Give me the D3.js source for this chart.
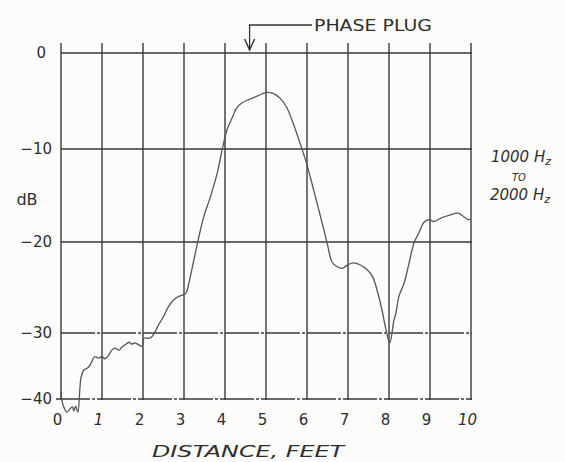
<!DOCTYPE html>
<html>
<head>
<meta charset="utf-8">
<script src="https://d3js.org/d3.v7.min.js"></script>
<style>
  body { margin: 0; background: #fcfcfb; }
  svg { display: block; }
  .grid line { stroke: #3a3a3a; stroke-width: 1.4; }
  .lbl { font-family: "DejaVu Sans", sans-serif; fill: #2e2e2e; }
</style>
</head>
<body>
<div id="chart"></div>
<script>
// distance (feet) and level (dB)
var distance = [0, 0.05, 0.15, 0.23, 0.28, 0.31, 0.36, 0.41, 0.49, 0.56, 0.67, 0.74, 0.82, 0.92, 1.0,
    1.07, 1.17, 1.24, 1.32, 1.41, 1.49, 1.56, 1.66, 1.73, 1.80, 1.98, 2.02, 2.14, 2.21, 2.29,
    2.38, 2.5, 2.62, 2.74, 2.86, 2.98, 3.05, 3.12, 3.24, 3.36, 3.48, 3.64, 3.81, 3.93, 4.05,
    4.17, 4.29, 4.41, 4.61, 4.78, 4.93, 5.05, 5.17, 5.34, 5.51, 5.66, 5.83, 6.0, 6.15, 6.32,
    6.49, 6.61, 6.73, 6.85, 7.0, 7.12, 7.29, 7.48, 7.6, 7.71, 7.83, 7.93, 8.02, 8.12, 8.17,
    8.24, 8.37, 8.49, 8.61, 8.73, 8.85, 8.98, 9.1, 9.28, 9.48, 9.68, 9.8, 9.93, 10.0];
var level = [-39.0, -40.9, -42.0, -41.4, -41.2, -41.8, -41.1, -42.0, -36.7, -35.6, -35.2, -34.5, -33.6, -33.8, -33.6,
    -33.9, -33.3, -32.6, -32.3, -32.6, -32.1, -31.8, -31.4, -31.7, -31.5, -32.0, -30.8, -30.8, -30.6, -29.9,
    -29.1, -28.2, -27.1, -26.4, -26.0, -25.8, -25.6, -24.5, -22.0, -19.5, -17.3, -15.2, -12.6, -10.1, -8.0,
    -6.8, -5.7, -5.2, -4.8, -4.5, -4.2, -4.1, -4.2, -4.7, -5.7, -7.3, -9.4, -11.7, -14.2, -17.1,
    -20.1, -22.2, -22.7, -22.9, -22.5, -22.3, -22.5, -23.1, -23.8, -25.3, -27.5, -29.7, -31.5, -28.6, -27.8,
    -26.0, -24.5, -22.3, -20.1, -19.0, -17.9, -17.6, -17.8, -17.4, -17.1, -16.9, -17.2, -17.6, -17.5];

var xTicks = [0, 1, 2, 3, 4, 5, 6, 7, 8, 9, 10];
var yTicks = [0, -10, -20, -30, -40];
var yTickLabels = ["0", "\u221210", "\u221220", "\u221230", "\u221240"];

var width = 565, height = 462;

var svg = d3.select("#chart").append("svg")
    .attr("width", width)
    .attr("height", height);

var x = d3.scaleLinear().domain([0, 10]).range([61, 471]);
// the drawn grid is uneven, the last row is shorter
var y = d3.scaleLinear().domain([-40, -30, -20, -10, 0]).range([399, 333, 242, 149, 53]);

var grid = svg.append("g").attr("class", "grid");

grid.selectAll(".vline")
    .data(xTicks)
    .enter().append("line")
    .attr("class", "vline")
    .attr("x1", function(d) { return x(d); })
    .attr("x2", function(d) { return x(d); })
    .attr("y1", y(0) - 10)
    .attr("y2", y(-40) + 1);

grid.selectAll(".hline")
    .data(yTicks)
    .enter().append("line")
    .attr("class", "hline")
    .attr("x1", function(d) { return d == -40 ? x(0) - 5 : x(0); })
    .attr("x2", x(10) + 1)
    .attr("y1", function(d) { return y(d); })
    .attr("y2", function(d) { return y(d); })
    .style("stroke-dasharray", function(d) { return (d == -30 || d == -40) ? "34,2,3,2" : null; });

// x tick labels
svg.append("g")
    .attr("transform", "translate(0," + (y(-40) + 5) + ")")
    .call(d3.axisBottom(x).tickValues(xTicks).tickSize(0).tickPadding(10).tickFormat(d3.format("d")))
    .call(function(g) {
        g.select(".domain").remove();
        g.selectAll("text")
            .attr("class", "lbl")
            .attr("dx", -4)
            .style("font-size", "15px")
            .style("font-style", function(d) { return (d == 1 || d == 10) ? "italic" : null; });
    });

// y tick labels
svg.append("g")
    .attr("transform", "translate(" + (x(0) - 6) + ",0)")
    .call(d3.axisLeft(y).tickValues(yTicks).tickSize(0).tickPadding(3)
        .tickFormat(function(d, i) { return yTickLabels[i]; }))
    .call(function(g) {
        g.select(".domain").remove();
        g.selectAll("text")
            .attr("class", "lbl")
            .style("font-size", "15px")
            .attr("dx", function(d) { return d == 0 ? -6 : 0; });
    });

svg.append("text")
    .attr("class", "lbl")
    .attr("x", 27)
    .attr("y", 205)
    .attr("text-anchor", "middle")
    .style("font-size", "16px")
    .text("dB");

// response curve
var points = distance.map(function(d, i) { return [d, level[i]]; });
var line = d3.line()
    .x(function(d) { return x(d[0]); })
    .y(function(d) { return y(d[1]); })
    .curve(d3.curveCatmullRom.alpha(0.5));

svg.append("path")
    .datum(points)
    .attr("d", line)
    .attr("fill", "none")
    .attr("stroke", "#555")
    .attr("stroke-width", 1.3);

// phase plug marker
var plugX = 4.6;
svg.append("path")
    .attr("d", "M312,25 H" + x(plugX) + " V" + (y(0) - 4))
    .attr("fill", "none")
    .attr("stroke", "#333")
    .attr("stroke-width", 1.3);
svg.append("path")
    .attr("d", "M" + (x(plugX) - 5) + "," + (y(0) - 14) + " L" + x(plugX) + "," + (y(0) - 3) + " L" + (x(plugX) + 5) + "," + (y(0) - 14))
    .attr("fill", "none")
    .attr("stroke", "#333")
    .attr("stroke-width", 1.4);

svg.append("text")
    .attr("class", "lbl")
    .attr("x", 314)
    .attr("y", 31)
    .attr("textLength", 118)
    .attr("lengthAdjust", "spacingAndGlyphs")
    .style("font-size", "16px")
    .text("PHASE PLUG");

// band label on the right
var band = svg.append("text")
    .attr("class", "lbl")
    .attr("text-anchor", "middle")
    .style("font-style", "italic")
    .style("font-size", "15px");
band.append("tspan").attr("x", 521).attr("y", 162).text("1000 H")
    .append("tspan").attr("dy", 3).style("font-size", "11px").text("z");
band.append("tspan").attr("x", 519).attr("y", 181).style("font-size", "10px").text("TO");
band.append("tspan").attr("x", 520).attr("y", 200).text("2000 H")
    .append("tspan").attr("dy", 3).style("font-size", "11px").text("z");

svg.append("text")
    .attr("class", "lbl")
    .attr("x", 152)
    .attr("y", 457)
    .attr("textLength", 192)
    .attr("lengthAdjust", "spacingAndGlyphs")
    .style("font-style", "italic")
    .style("font-size", "16px")
    .text("DISTANCE, FEET");
</script>
</body>
</html>
